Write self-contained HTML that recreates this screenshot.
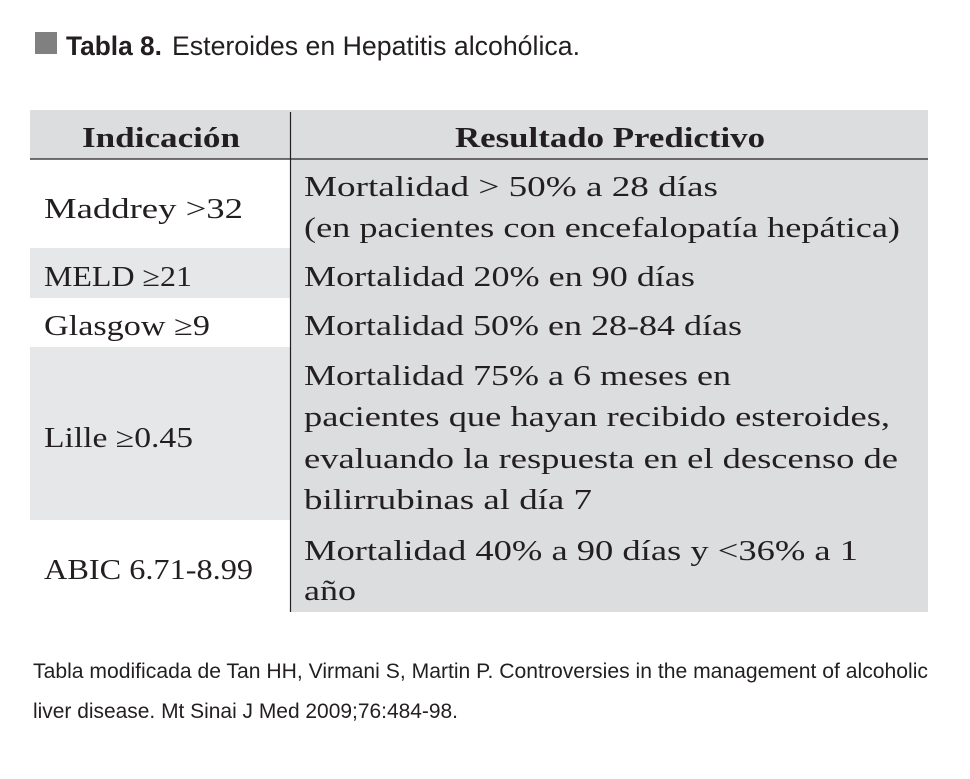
<!DOCTYPE html>
<html><head><meta charset="utf-8"><style>
html,body{margin:0;padding:0;background:#fff;}
svg{display:block;}
.s{font-family:"Liberation Serif",serif;font-size:28px;fill:#231f20;}
.b{font-weight:bold;}
.t{font-family:"Liberation Sans",sans-serif;fill:#231f20;}
</style></head><body>
<svg width="970" height="779" viewBox="0 0 970 779">
<rect x="35" y="32" width="22" height="22" fill="#808080"/>
<text class="t" y="55" font-size="27"><tspan x="66" font-weight="bold" textLength="96" lengthAdjust="spacingAndGlyphs">Tabla 8.</tspan><tspan x="172" textLength="408" lengthAdjust="spacingAndGlyphs">Esteroides en Hepatitis alcohólica.</tspan></text>
<g>
<rect x="30" y="110" width="898" height="49" fill="#dcdddf"/>
<rect x="291" y="159" width="637" height="453" fill="#dcdddf"/>
<rect x="30" y="248" width="261" height="50" fill="#e6e7e8"/>
<rect x="30" y="347" width="261" height="173" fill="#e6e7e8"/>
</g>
<line x1="30" y1="159" x2="928" y2="159" stroke="#231f20" stroke-width="1.2"/>
<line x1="290.5" y1="112" x2="290.5" y2="612" stroke="#231f20" stroke-width="1.2"/>
<text class="s b" x="82" y="147" textLength="158" lengthAdjust="spacingAndGlyphs">Indicación</text>
<text class="s b" x="455" y="147" textLength="310" lengthAdjust="spacingAndGlyphs">Resultado Predictivo</text>
<text class="s" x="44" y="218" textLength="199" lengthAdjust="spacingAndGlyphs">Maddrey  &gt;32</text>
<text class="s" x="304" y="196" textLength="414" lengthAdjust="spacingAndGlyphs">Mortalidad &gt;  50% a 28 días</text>
<text class="s" x="304" y="237" textLength="596" lengthAdjust="spacingAndGlyphs">(en pacientes con encefalopatía hepática)</text>
<text class="s" x="44" y="286" textLength="148" lengthAdjust="spacingAndGlyphs">MELD ≥21</text>
<text class="s" x="304" y="286" textLength="391" lengthAdjust="spacingAndGlyphs">Mortalidad 20%  en 90 días</text>
<text class="s" x="44" y="335" textLength="166" lengthAdjust="spacingAndGlyphs">Glasgow ≥9</text>
<text class="s" x="304" y="335" textLength="438" lengthAdjust="spacingAndGlyphs">Mortalidad 50%  en 28-84 días</text>
<text class="s" x="44" y="447" textLength="149" lengthAdjust="spacingAndGlyphs">Lille ≥0.45</text>
<text class="s" x="304" y="385" textLength="427" lengthAdjust="spacingAndGlyphs">Mortalidad 75%  a 6 meses en</text>
<text class="s" x="304" y="426" textLength="586" lengthAdjust="spacingAndGlyphs">pacientes que hayan recibido esteroides,</text>
<text class="s" x="304" y="468" textLength="594" lengthAdjust="spacingAndGlyphs">evaluando la respuesta en el descenso de</text>
<text class="s" x="304" y="509" textLength="288" lengthAdjust="spacingAndGlyphs">bilirrubinas al día 7</text>
<text class="s" x="44" y="579" textLength="209" lengthAdjust="spacingAndGlyphs">ABIC 6.71-8.99</text>
<text class="s" x="304" y="560" textLength="554" lengthAdjust="spacingAndGlyphs">Mortalidad 40%  a 90 días y  &lt;36%  a 1</text>
<text class="s" x="304" y="600" textLength="52" lengthAdjust="spacingAndGlyphs">año</text>
<text class="t" x="33" y="678" font-size="21" textLength="895" lengthAdjust="spacingAndGlyphs">Tabla modificada de Tan HH, Virmani S, Martin P. Controversies in the management of alcoholic</text>
<text class="t" x="33" y="718" font-size="21" textLength="425" lengthAdjust="spacingAndGlyphs">liver disease. Mt Sinai J Med 2009;76:484-98.</text>
</svg>
</body></html>
